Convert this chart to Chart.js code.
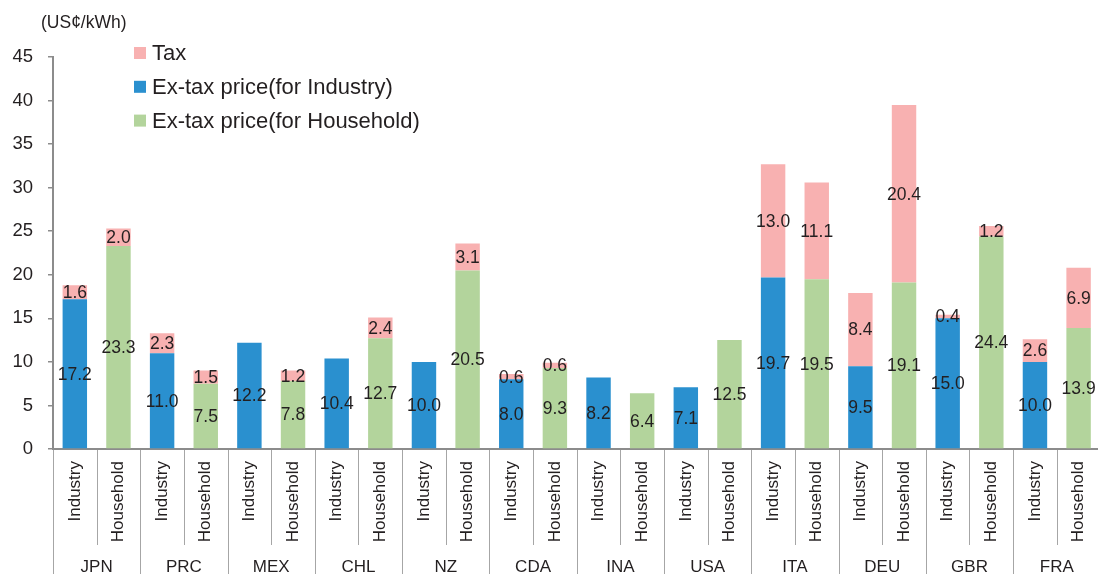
<!DOCTYPE html>
<html>
<head>
<meta charset="utf-8">
<script src="https://cdn.jsdelivr.net/npm/chart.js@4.4.1/dist/chart.umd.min.js"></script>
<style>
  html, body { margin: 0; padding: 0; overflow: hidden; background: #fff; }
  #wrap { width: 1111px; height: 574px; }
</style>
</head>
<body>
<div id="wrap"><canvas id="chart" width="1111" height="574"></canvas></div>
<script>
// data (US cents / kWh)
const countries = ['JPN', 'PRC', 'MEX', 'CHL', 'NZ', 'CDA', 'INA', 'USA', 'ITA', 'DEU', 'GBR', 'FRA'];
const sectors = ['Industry', 'Household'];
const industryExTax = [17.2, 11.0, 12.2, 10.4, 10.0, 8.0, 8.2, 7.1, 19.7, 9.5, 15.0, 10.0];
const industryTax = [1.6, 2.3, null, null, null, 0.6, null, null, 13.0, 8.4, 0.4, 2.6];
const householdExTax = [23.3, 7.5, 7.8, 12.7, 20.5, 9.3, 6.4, 12.5, 19.5, 19.1, 24.4, 13.9];
const householdTax = [2.0, 1.5, 1.2, 2.4, 3.1, 0.6, null, null, 11.1, 20.4, 1.2, 6.9];
const yTicks = [0, 5, 10, 15, 20, 25, 30, 35, 40, 45];
const unitLabel = '(US\u00a2/kWh)';

const FONT = '"Liberation Sans", Arial, sans-serif';
const TEXT = '#231f20';
const AXIS = '#8c8c8c';
const SEP = '#a6a6a6';

// one category per country/sector pair
const labels = [];
const indData = [];
const houseData = [];
const taxData = [];
countries.forEach((c, i) => {
    labels.push(sectors[0], sectors[1]);
    indData.push(industryExTax[i], null);
    houseData.push(null, householdExTax[i]);
    taxData.push(industryTax[i], householdTax[i]);
});

const datasets = [
    { label: 'Ex-tax price(for Industry)', data: indData, backgroundColor: '#2a90cf' },
    { label: 'Ex-tax price(for Household)', data: houseData, backgroundColor: '#b3d49c' },
    { label: 'Tax', data: taxData, backgroundColor: '#f8b1b1' }
];
const legendOrder = [2, 0, 1];

// value labels in the middle of each segment
const valueLabels = {
    id: 'valueLabels',
    afterDatasetsDraw(chart) {
        const ctx = chart.ctx;
        ctx.save();
        ctx.font = '17.5px ' + FONT;
        ctx.fillStyle = TEXT;
        ctx.textAlign = 'center';
        ctx.textBaseline = 'middle';
        chart.data.datasets.forEach((ds, di) => {
            const meta = chart.getDatasetMeta(di);
            meta.data.forEach((bar, i) => {
                const v = ds.data[i];
                if (v == null) return;
                ctx.fillText(v.toFixed(1), bar.x, (bar.y + bar.base) / 2 + 1);
            });
        });
        ctx.restore();
    }
};

// country row, separators, legend and unit label
const extras = {
    id: 'extras',
    afterDraw(chart) {
        const ctx = chart.ctx;
        const x = chart.scales.x;
        const catW = (x.right - x.left) / labels.length;
        ctx.save();
        ctx.strokeStyle = SEP;
        ctx.lineWidth = 1;
        for (let i = 0; i <= labels.length; i++) {
            const px = Math.round(x.left + i * catW) + 0.5;
            ctx.beginPath();
            ctx.moveTo(px, x.top + 1);
            ctx.lineTo(px, i % 2 === 0 ? chart.height : x.top + 96);
            ctx.stroke();
        }
        ctx.font = '17px ' + FONT;
        ctx.fillStyle = TEXT;
        ctx.textAlign = 'center';
        ctx.textBaseline = 'middle';
        countries.forEach((c, g) => {
            ctx.fillText(c, x.left + (2 * g + 1) * catW, x.top + 118);
        });

        ctx.textAlign = 'left';
        ctx.font = '17.5px ' + FONT;
        ctx.fillText(unitLabel, 41, 23);

        ctx.font = '22px ' + FONT;
        legendOrder.forEach((di, r) => {
            const cy = 53 + r * 33.8;
            ctx.fillStyle = datasets[di].backgroundColor;
            ctx.fillRect(134, cy - 6, 12, 12);
            ctx.fillStyle = TEXT;
            ctx.fillText(datasets[di].label, 152, cy + 1);
        });
        ctx.restore();
    }
};

new Chart(document.getElementById('chart'), {
    type: 'bar',
    data: { labels: labels, datasets: datasets },
    options: {
        responsive: false,
        animation: false,
        layout: { padding: { top: 57, right: 0, left: 0, bottom: 0 } },
        datasets: { bar: { categoryPercentage: 1, barPercentage: 0.56 } },
        plugins: { legend: { display: false }, tooltip: { enabled: false } },
        scales: {
            x: {
                stacked: true,
                grid: { display: false, drawTicks: false },
                border: { display: true, color: AXIS, width: 2 },
                ticks: {
                    autoSkip: false, minRotation: 90, maxRotation: 90,
                    padding: 12, color: TEXT, font: { size: 17, family: FONT }
                },
                afterFit(scale) { scale.height = 125; }
            },
            y: {
                stacked: true,
                min: 0,
                max: 45,
                afterBuildTicks(scale) { scale.ticks = yTicks.map(v => ({ value: v })); },
                grid: { drawOnChartArea: false, drawTicks: true, tickLength: 5, color: AXIS, lineWidth: 1.5 },
                border: { display: true, color: AXIS, width: 2 },
                ticks: { padding: 15, color: TEXT, font: { size: 18.5, family: FONT } },
                afterFit(scale) { scale.width = 53; }
            }
        }
    },
    plugins: [valueLabels, extras]
});
</script>
</body>
</html>
